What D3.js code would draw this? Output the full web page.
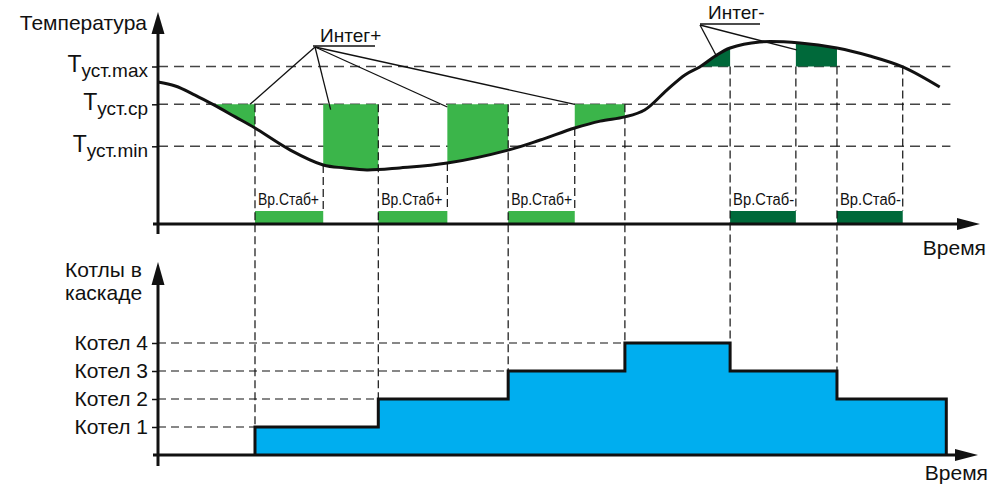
<!DOCTYPE html>
<html lang="ru">
<head>
<meta charset="UTF-8">
<title>Каскад котлов</title>
<script src="https://cdn.jsdelivr.net/npm/d3@7"></script>
<style>
  body { margin: 0; background: #fff; }
  text { font-family: "Liberation Sans", Arial, sans-serif; fill: #111; }
</style>
</head>
<body>
<svg></svg>
<script>
  // кривая температуры (время в условных единицах 0..100, температура 0..100)
  const curveTime = [0, 2.1, 4.5, 6.8, 9.4, 11.8, 16.1, 20.1, 22.7, 25.4, 29.4, 35.2, 42.6, 46.5, 50.7, 53.8, 56.8, 59.2, 61.9, 64.1, 65.9, 67.8, 69.6, 73.2, 78.1, 82.6, 86.6, 90.6, 95.1];
  const curveTemp = [67.6, 65.7, 61.4, 56.7, 51.0, 45.7, 35.2, 28.1, 26.7, 25.7, 26.7, 29.0, 35.2, 40.0, 45.7, 49.0, 51.0, 54.3, 63.8, 71.0, 74.8, 80.0, 83.8, 86.7, 86.2, 83.8, 80.0, 74.8, 65.2];

  // уставки
  const setpoints = [37, 57, 75];
  const setpointSubs = ["уст.min", "уст.ср", "уст.max"];

  // интервалы интегрирования и стабилизации
  const integPlus = [[6.8, 11.8], [20.1, 26.8], [35.2, 42.6], [50.7, 56.8]];
  const integMinus = [[65.9, 69.6], [77.6, 82.6]];
  const stabPlus = [[11.8, 20.1], [26.8, 35.2], [42.6, 50.7]];
  const stabMinus = [[69.6, 77.6], [82.6, 90.6]];

  // число котлов в каскаде
  const stepTimes = [11.8, 26.8, 42.6, 56.8, 69.6, 82.6, 95.9];
  const stepLevels = [1, 2, 3, 4, 3, 2, 0];
  const boilerLevels = [1, 2, 3, 4];

  // выноски
  const plusTargets = [[11.2, 57], [21, 54.5], [35.2, 55.7], [50.7, 57]];
  const minusTargets = [[68.0, 79.5], [77.7, 82.9]];

  const W = 1002, H = 486;
  const lightGreen = "#3bb54a", darkGreen = "#00693a", blue = "#00aeef";

  const svg = d3.select("svg").attr("width", W).attr("height", H);
  const defs = svg.append("defs");

  const x = d3.scaleLinear().domain([0, 100]).range([158, 980]);
  const yT = d3.scaleLinear().domain([0, 100]).range([224, 14]);
  const yB = d3.scaleLinear().domain([0, 4]).range([455, 343]);

  const tCp = setpoints[1], tMax = setpoints[2];
  const pts = curveTime.map((t, i) => [t, curveTemp[i]]);
  const curveType = d3.curveCatmullRom.alpha(0.5);
  const tempAt = t => {
    // значение кривой в точке t (по исходным точкам, линейно) — для концов штрихов
    const i = d3.bisectRight(curveTime, t) - 1;
    const j = Math.min(i + 1, curveTime.length - 1);
    const k = (t - curveTime[i]) / ((curveTime[j] - curveTime[i]) || 1);
    return curveTemp[i] + k * (curveTemp[j] - curveTemp[i]);
  };

  // горизонтальные штриховые уставок
  svg.append("g").selectAll("line").data(setpoints).join("line")
    .attr("x1", x(0)).attr("x2", x(96.4))
    .attr("y1", d => yT(d)).attr("y2", d => yT(d))
    .attr("stroke", "#444").attr("stroke-width", 1.6).attr("stroke-dasharray", "10,6");

  // закрашенные площади интегрирования
  function integArea(intervals, level, color, key) {
    const area = d3.area().x(d => x(d[0])).y0(yT(level)).y1(d => yT(d[1])).curve(curveType);
    intervals.forEach((iv, i) => {
      defs.append("clipPath").attr("id", key + i).append("rect")
        .attr("x", x(iv[0])).attr("width", x(iv[1]) - x(iv[0]))
        .attr("y", 0).attr("height", H);
      svg.append("path").attr("d", area(pts)).attr("fill", color)
        .attr("clip-path", `url(#${key}${i})`);
    });
  }
  integArea(integPlus, tCp, lightGreen, "ip");
  integArea(integMinus, tMax, darkGreen, "im");

  // полосы времени стабилизации
  function stabBars(intervals, color, label) {
    const g = svg.append("g");
    g.selectAll("rect").data(intervals).join("rect")
      .attr("x", d => x(d[0])).attr("width", d => x(d[1]) - x(d[0]))
      .attr("y", 211).attr("height", 12).attr("fill", color);
    g.selectAll("text").data(intervals).join("text")
      .attr("x", d => x(d[0]) + 3).attr("y", 205)
      .attr("font-size", 16).attr("textLength", 61).attr("lengthAdjust", "spacingAndGlyphs")
      .text(label);
  }
  stabBars(stabPlus, lightGreen, "Вр.Стаб+");
  stabBars(stabMinus, darkGreen, "Вр.Стаб-");

  // ступени котлов
  const stepPts = stepTimes.map((t, i) => [t, stepLevels[i]]);
  svg.append("path")
    .attr("d", d3.area().x(d => x(d[0])).y0(yB(0)).y1(d => yB(d[1])).curve(d3.curveStepAfter)(stepPts))
    .attr("fill", blue);
  svg.append("path")
    .attr("d", d3.line().x(d => x(d[0])).y(d => yB(d[1])).curve(d3.curveStepAfter)([[stepTimes[0], 0], ...stepPts]))
    .attr("fill", "none").attr("stroke", "#111").attr("stroke-width", 3);

  // горизонтальные штриховые котлов (до начала ступени)
  svg.append("g").selectAll("line").data(boilerLevels).join("line")
    .attr("x1", x(0)).attr("x2", d => x(stepTimes[d - 1]))
    .attr("y1", d => yB(d)).attr("y2", d => yB(d))
    .attr("stroke", "#111").attr("stroke-width", 1.2).attr("stroke-dasharray", "8,5");

  // вертикальные штриховые
  const vLines = [];
  // переключения вверх: от уставки ср. до ступени
  stepTimes.slice(0, 4).forEach((t, i) => vLines.push([t, yT(tCp), yB(stepLevels[i])]));
  // переключения вниз: от уставки max до ступени
  stepTimes.slice(4, 6).forEach((t, i) => vLines.push([t, yT(tMax), yB(stepLevels[i + 3])]));
  // концы интегрирования в верхней части
  stabPlus.forEach(d => vLines.push([d[1], yT(tempAt(d[1])), 211]));
  stabMinus.forEach(d => vLines.push([d[1], yT(tMax), 211]));
  svg.append("g").selectAll("line").data(vLines).join("line")
    .attr("x1", d => x(d[0])).attr("x2", d => x(d[0]))
    .attr("y1", d => d[1]).attr("y2", d => d[2])
    .attr("stroke", "#111").attr("stroke-width", 1.2).attr("stroke-dasharray", "8,4");

  // кривая температуры
  svg.append("path")
    .attr("d", d3.line().x(d => x(d[0])).y(d => yT(d[1])).curve(curveType)(pts))
    .attr("fill", "none").attr("stroke", "#111").attr("stroke-width", 3);

  // оси со стрелками
  const ax = svg.append("g").attr("stroke", "#111").attr("stroke-width", 3);
  ax.append("line").attr("x1", 158).attr("x2", 158).attr("y1", 30).attr("y2", 234);
  ax.append("line").attr("x1", 153).attr("x2", 960).attr("y1", yT(0)).attr("y2", yT(0));
  ax.append("line").attr("x1", 158).attr("x2", 158).attr("y1", 282).attr("y2", 466);
  ax.append("line").attr("x1", 153).attr("x2", 958).attr("y1", yB(0)).attr("y2", yB(0));
  const arrows = [
    "M158,12 L151.5,34 L164.5,34 Z",
    "M980,224 L957,218 L957,230 Z",
    "M158,262 L151.5,285 L164.5,285 Z",
    "M978,455 L955,449 L955,461 Z"
  ];
  svg.append("g").selectAll("path").data(arrows).join("path").attr("d", d => d).attr("fill", "#111");

  // метки уставок
  const gT = svg.append("g").attr("transform", "translate(158,0)")
    .call(d3.axisLeft(yT).tickValues(setpoints).tickSize(6).tickPadding(4).tickFormat(""))
    .call(g => g.select(".domain").remove());
  gT.selectAll(".tick line").attr("stroke", "#111").attr("stroke-width", 1.5);
  gT.selectAll(".tick text").attr("font-size", 23).attr("font-family", null).attr("dy", "0.22em")
    .each(function (d, i) {
      const t = d3.select(this);
      t.append("tspan").text("T");
      t.append("tspan").attr("dy", 5).attr("font-size", 19).text(setpointSubs[i]);
    });

  // метки котлов
  const gB = svg.append("g").attr("transform", "translate(158,0)")
    .call(d3.axisLeft(yB).tickValues(boilerLevels).tickSize(6).tickPadding(4).tickFormat(d => "Котел " + d))
    .call(g => g.select(".domain").remove());
  gB.selectAll(".tick line").attr("stroke", "#111").attr("stroke-width", 1.5);
  gB.selectAll(".tick text").attr("font-size", 21).attr("font-family", null);

  // подписи осей
  svg.append("text").attr("x", 147).attr("y", 30).attr("text-anchor", "end").attr("font-size", 21).text("Температура");
  svg.append("text").attr("x", 986).attr("y", 255).attr("text-anchor", "end").attr("font-size", 21).text("Время");
  svg.append("text").attr("x", 988).attr("y", 480).attr("text-anchor", "end").attr("font-size", 21).text("Время");
  svg.append("text").attr("x", 65).attr("y", 277).attr("font-size", 21).text("Котлы в");
  svg.append("text").attr("x", 65).attr("y", 300).attr("font-size", 21).text("каскаде");

  // выноски Интег+ / Интег-
  function callout(label, tx, ty, ux1, ux2, uy, ox, oy, targets) {
    const g = svg.append("g");
    g.append("text").attr("x", tx).attr("y", ty).attr("font-size", 19).text(label);
    g.append("line").attr("x1", ux1).attr("x2", ux2).attr("y1", uy).attr("y2", uy)
      .attr("stroke", "#111").attr("stroke-width", 1.3);
    g.selectAll("line.lead").data(targets).join("line").attr("class", "lead")
      .attr("x1", ox).attr("y1", oy)
      .attr("x2", d => x(d[0])).attr("y2", d => yT(d[1]))
      .attr("stroke", "#111").attr("stroke-width", 1.3);
  }
  callout("Интег+", 320, 42, 313, 375, 46, 315, 47, plusTargets);
  callout("Интег-", 708, 19, 700, 760, 24, 700, 25, minusTargets);
</script>
</body>
</html>
